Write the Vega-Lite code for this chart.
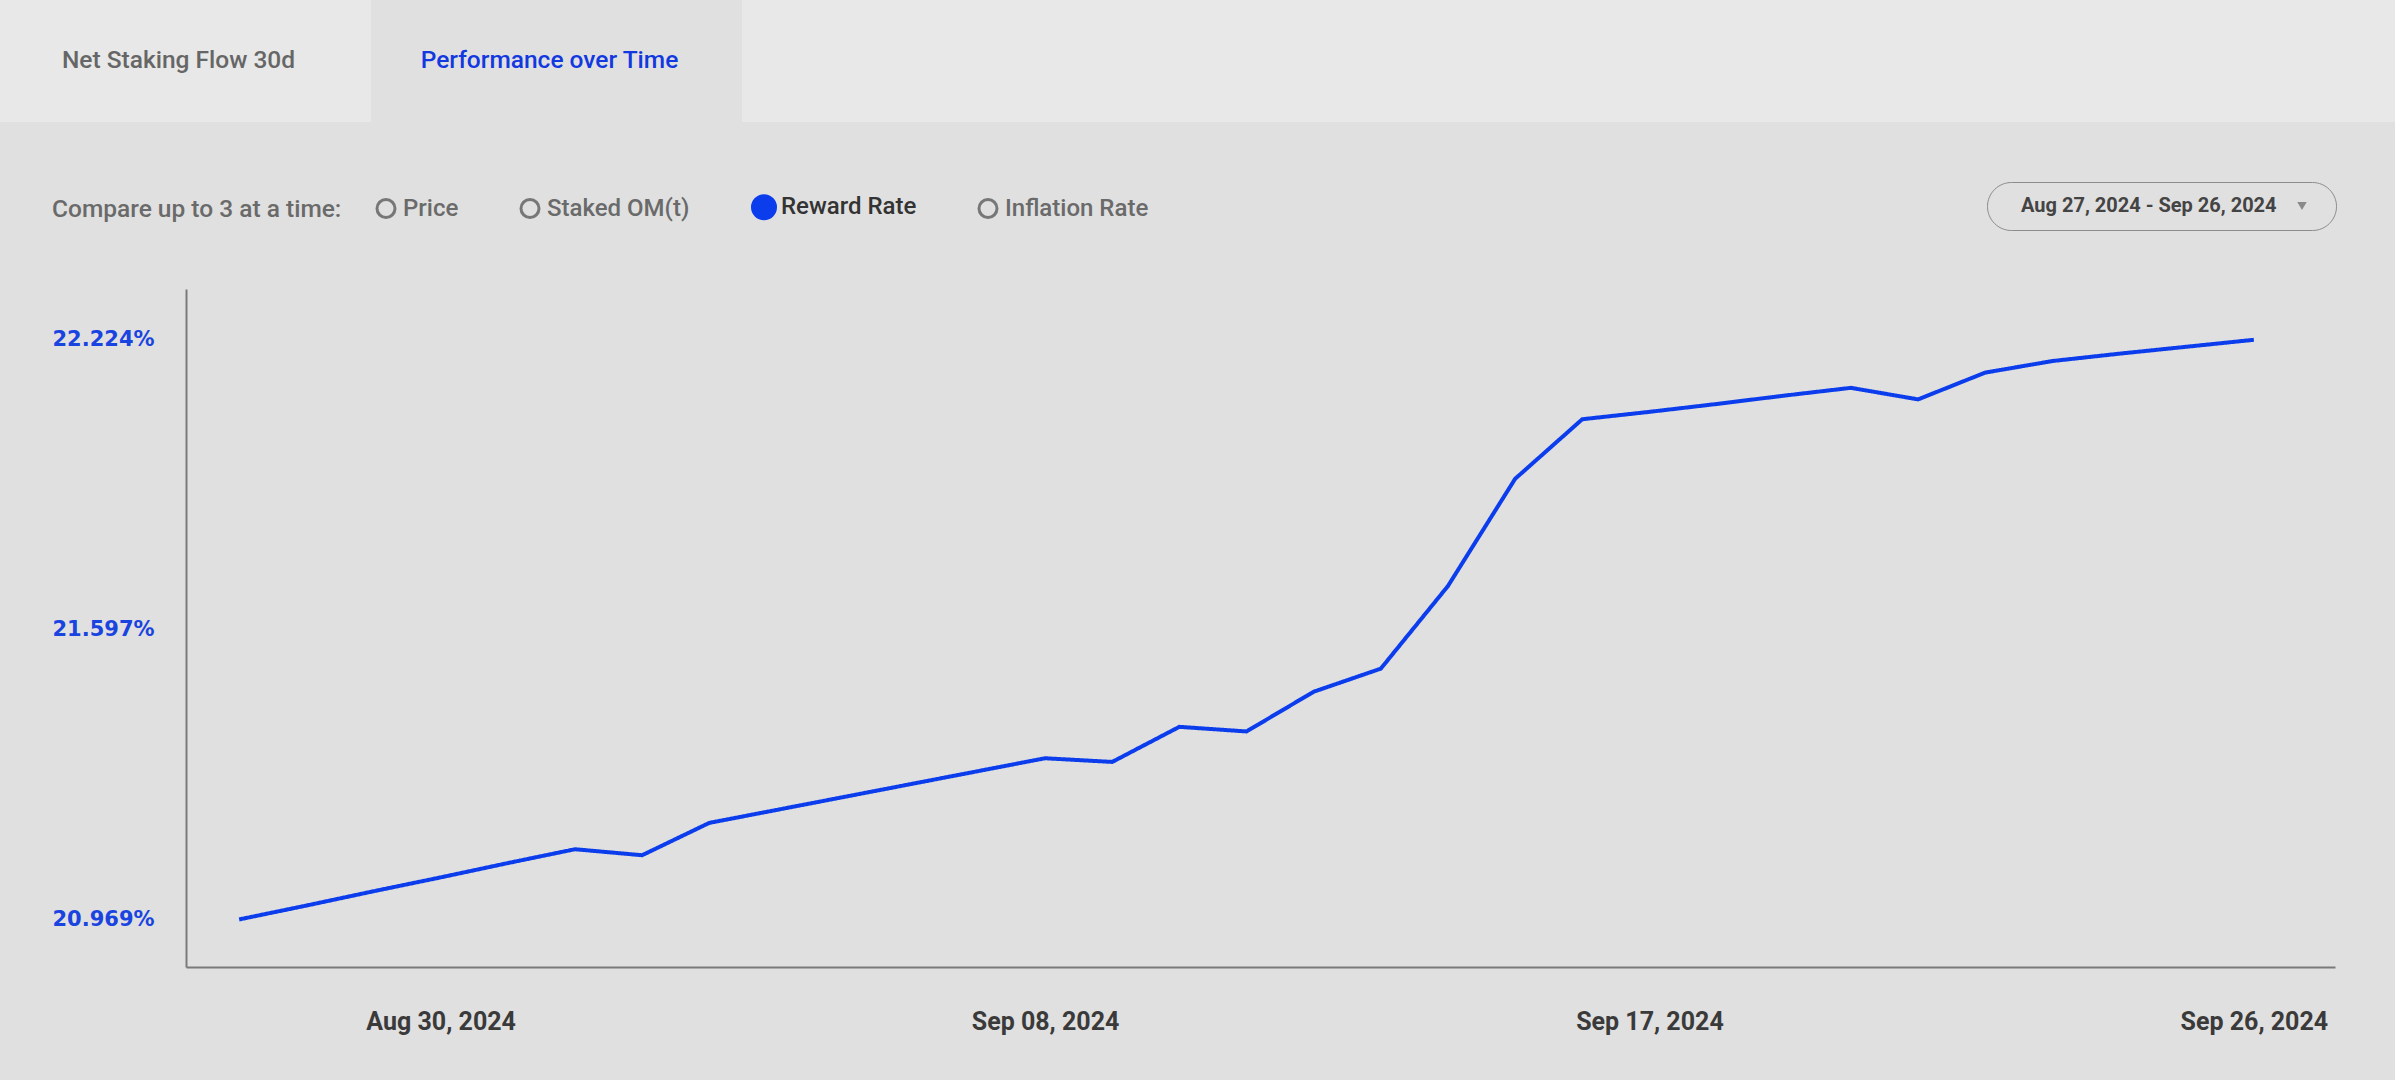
{
  "$schema": "https://vega.github.io/schema/vega-lite/v6.json",
  "background": "#e0e0e0",
  "padding": {"left": 0, "top": 0, "right": 0, "bottom": 46},
  "spacing": 21,
  "columns": 1,
  "align": "none",
  "config": {"view": {"stroke": null}, "font": "Roboto"},
  "resolve": {"legend": {"stroke": "independent", "strokeDash": "independent"}},
  "concat": [
    {
      "width": 2209,
      "height": 122,
      "view": {"fill": "#e8e8e8", "stroke": null},
      "data": {"values": [
        {"tab": "Net Staking Flow 30d", "active": false},
        {"tab": "Performance over Time", "active": true}
      ]},
      "encoding": {
        "x": {"field": "tab", "type": "nominal", "sort": null,
              "scale": {"domain": ["Net Staking Flow 30d", "Performance over Time", "_1", "_2", "_3"],
                        "paddingInner": 0, "paddingOuter": 0.477, "align": 0},
              "axis": null}
      },
      "layer": [
        {"mark": {"type": "bar", "strokeWidth": 0, "xOffset": -186},
         "encoding": {"color": {"condition": {"test": "datum.active", "value": "#e0e0e0"}, "value": "#e8e8e8"}}},
        {"mark": {"type": "text", "fontSize": 24.5, "fontWeight": 500, "xOffset": -193, "font": "Roboto"},
         "encoding": {"text": {"field": "tab"},
                      "color": {"condition": {"test": "datum.active", "value": "#1238e0"}, "value": "#666666"}}}
      ]
    },
    {
      "width": 2149,
      "height": 678,
      "data": {"values": [
        {"date": "2024-08-27", "metric": "Reward Rate", "period": "Aug 27, 2024 - Sep 26, 2024", "rate": 20.969},
        {"date": "2024-08-28", "metric": "Reward Rate", "period": "Aug 27, 2024 - Sep 26, 2024", "rate": 20.999},
        {"date": "2024-08-29", "metric": "Reward Rate", "period": "Aug 27, 2024 - Sep 26, 2024", "rate": 21.030},
        {"date": "2024-08-30", "metric": "Reward Rate", "period": "Aug 27, 2024 - Sep 26, 2024", "rate": 21.060},
        {"date": "2024-08-31", "metric": "Reward Rate", "period": "Aug 27, 2024 - Sep 26, 2024", "rate": 21.091},
        {"date": "2024-09-01", "metric": "Reward Rate", "period": "Aug 27, 2024 - Sep 26, 2024", "rate": 21.121},
        {"date": "2024-09-02", "metric": "Reward Rate", "period": "Aug 27, 2024 - Sep 26, 2024", "rate": 21.108},
        {"date": "2024-09-03", "metric": "Reward Rate", "period": "Aug 27, 2024 - Sep 26, 2024", "rate": 21.178},
        {"date": "2024-09-04", "metric": "Reward Rate", "period": "Aug 27, 2024 - Sep 26, 2024", "rate": 21.206},
        {"date": "2024-09-05", "metric": "Reward Rate", "period": "Aug 27, 2024 - Sep 26, 2024", "rate": 21.234},
        {"date": "2024-09-06", "metric": "Reward Rate", "period": "Aug 27, 2024 - Sep 26, 2024", "rate": 21.262},
        {"date": "2024-09-07", "metric": "Reward Rate", "period": "Aug 27, 2024 - Sep 26, 2024", "rate": 21.290},
        {"date": "2024-09-08", "metric": "Reward Rate", "period": "Aug 27, 2024 - Sep 26, 2024", "rate": 21.318},
        {"date": "2024-09-09", "metric": "Reward Rate", "period": "Aug 27, 2024 - Sep 26, 2024", "rate": 21.310},
        {"date": "2024-09-10", "metric": "Reward Rate", "period": "Aug 27, 2024 - Sep 26, 2024", "rate": 21.386},
        {"date": "2024-09-11", "metric": "Reward Rate", "period": "Aug 27, 2024 - Sep 26, 2024", "rate": 21.376},
        {"date": "2024-09-12", "metric": "Reward Rate", "period": "Aug 27, 2024 - Sep 26, 2024", "rate": 21.462},
        {"date": "2024-09-13", "metric": "Reward Rate", "period": "Aug 27, 2024 - Sep 26, 2024", "rate": 21.512},
        {"date": "2024-09-14", "metric": "Reward Rate", "period": "Aug 27, 2024 - Sep 26, 2024", "rate": 21.691},
        {"date": "2024-09-15", "metric": "Reward Rate", "period": "Aug 27, 2024 - Sep 26, 2024", "rate": 21.923},
        {"date": "2024-09-16", "metric": "Reward Rate", "period": "Aug 27, 2024 - Sep 26, 2024", "rate": 22.052},
        {"date": "2024-09-17", "metric": "Reward Rate", "period": "Aug 27, 2024 - Sep 26, 2024", "rate": 22.068},
        {"date": "2024-09-18", "metric": "Reward Rate", "period": "Aug 27, 2024 - Sep 26, 2024", "rate": 22.085},
        {"date": "2024-09-19", "metric": "Reward Rate", "period": "Aug 27, 2024 - Sep 26, 2024", "rate": 22.103},
        {"date": "2024-09-20", "metric": "Reward Rate", "period": "Aug 27, 2024 - Sep 26, 2024", "rate": 22.120},
        {"date": "2024-09-21", "metric": "Reward Rate", "period": "Aug 27, 2024 - Sep 26, 2024", "rate": 22.095},
        {"date": "2024-09-22", "metric": "Reward Rate", "period": "Aug 27, 2024 - Sep 26, 2024", "rate": 22.153},
        {"date": "2024-09-23", "metric": "Reward Rate", "period": "Aug 27, 2024 - Sep 26, 2024", "rate": 22.178},
        {"date": "2024-09-24", "metric": "Reward Rate", "period": "Aug 27, 2024 - Sep 26, 2024", "rate": 22.194},
        {"date": "2024-09-25", "metric": "Reward Rate", "period": "Aug 27, 2024 - Sep 26, 2024", "rate": 22.209},
        {"date": "2024-09-26", "metric": "Reward Rate", "period": "Aug 27, 2024 - Sep 26, 2024", "rate": 22.224}
      ]},
      "mark": {"type": "line", "strokeWidth": 4},
      "encoding": {
        "x": {
          "field": "date", "type": "temporal",
          "scale": {"type": "utc", "domain": [
            {"year": 2024, "month": 8, "date": 26, "hours": 5, "utc": true},
            {"year": 2024, "month": 9, "date": 27, "hours": 5, "utc": true}
          ]},
          "axis": {
            "values": [
              {"year": 2024, "month": 8, "date": 30, "utc": true},
              {"year": 2024, "month": 9, "date": 8, "utc": true},
              {"year": 2024, "month": 9, "date": 17, "utc": true},
              {"year": 2024, "month": 9, "date": 26, "utc": true}
            ],
            "labelExpr": "utcFormat(datum.value, '%b %d, %Y')",
            "title": null, "grid": false, "ticks": false, "tickSize": 0,
            "domainColor": "#7a7a7a", "domainWidth": 2,
            "labelFont": "Roboto", "labelFontSize": 25, "labelFontWeight": 700,
            "labelColor": "#3a3a3a", "labelPadding": 42,
            "labelFlush": false, "labelOverlap": false
          }
        },
        "y": {
          "field": "rate", "type": "quantitative",
          "scale": {"domain": [20.866, 22.334], "zero": false, "nice": false},
          "axis": {
            "values": [20.969, 21.597, 22.224],
            "labelExpr": "format(datum.value, '.3f') + '%'",
            "title": null, "grid": false, "ticks": false, "tickSize": 0,
            "domainColor": "#7a7a7a", "domainWidth": 2,
            "labelAlign": "left", "labelPadding": 134, "labelBaseline": "middle",
            "labelFont": "DejaVu Sans", "labelFontSize": 21, "labelFontWeight": 700,
            "labelColor": "#1a44e0"
          }
        },
        "stroke": {
          "field": "metric", "type": "nominal",
          "scale": {"domain": ["Price", "Staked OM(t)", "Reward Rate", "Inflation Rate"],
                    "range": ["#777777", "#777777", "#0b3ded", "#777777"]},
          "legend": {
            "orient": "none", "legendX": -186, "legendY": -146,
            "direction": "horizontal", "columns": 4,
            "title": "Compare up to 3 at a time:", "titleLimit": 800,
            "titleOrient": "left", "titleBaseline": "middle",
            "titleFont": "Roboto", "titleFontSize": 24.5, "titleFontWeight": 500,
            "titleColor": "#6a6a6a", "titlePadding": 32,
            "padding": 52,
            "symbolType": "circle", "symbolSize": 529, "symbolStrokeWidth": 3,
            "labelFont": "Roboto", "labelFontSize": 24, "labelFontWeight": 500,
            "labelColor": "#6a6a6a", "labelOffset": 5, "columnPadding": 56, "labelLimit": 400,
            "encode": {
              "symbols": {"update": {
                "fill": {"signal": "datum.value === 'Reward Rate' ? '#0b3ded' : 'transparent'"},
                "size": {"signal": "datum.value === 'Reward Rate' ? 529 : 324"},
                "strokeWidth": {"value": 3}
              }},
              "labels": {"update": {
                "fill": {"signal": "datum.value === 'Reward Rate' ? '#333333' : '#6a6a6a'"}
              }}
            }
          }
        },
        "strokeDash": {
          "field": "period", "type": "nominal",
          "scale": {"range": [[1, 0]]},
          "legend": {
            "orient": "none", "legendX": 1801, "legendY": -107,
            "title": "Aug 27, 2024 - Sep 26, 2024", "titleLimit": 800,
            "titleOrient": "left", "titleBaseline": "middle",
            "titleFont": "Roboto", "titleFontSize": 20, "titleFontWeight": 700,
            "titleColor": "#444444", "titlePadding": 35,
            "padding": 14, "strokeColor": "#8c8c8c", "cornerRadius": 25,
            "symbolType": "triangle-down", "symbolSize": 90,
            "symbolFillColor": "#8a8a8a", "symbolStrokeWidth": 0,
            "labelExpr": "'\u00a0\u00a0\u00a0\u00a0'", "labelFontSize": 20, "labelOffset": 10,
            "encode": {
              "title": {"update": {"dx": {"value": 20}}},
              "symbols": {"update": {
                "fill": {"value": "#8a8a8a"},
                "stroke": {"value": "transparent"},
                "strokeWidth": {"value": 0}
              }}
            }
          }
        }
      }
    }
  ]
}
